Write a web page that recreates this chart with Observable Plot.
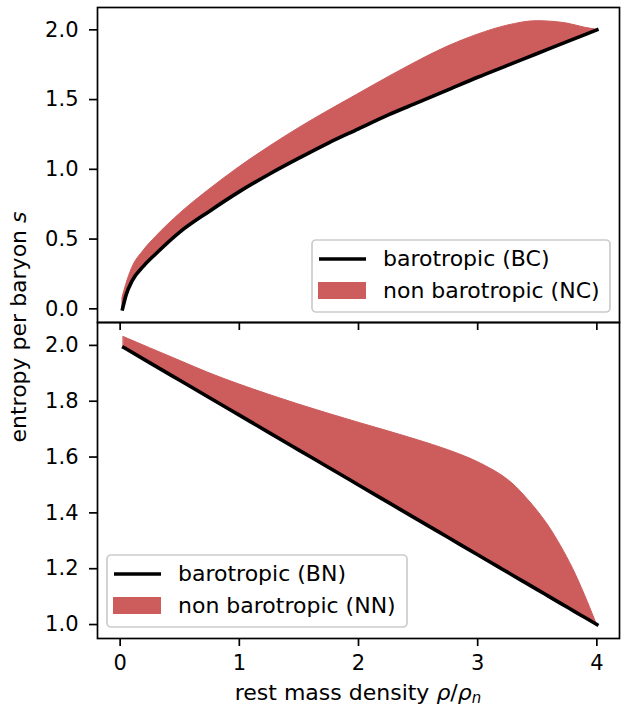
<!DOCTYPE html>
<html>
<head>
<meta charset="utf-8">
<script src="https://cdn.jsdelivr.net/npm/d3@7"></script>
<script src="https://cdn.jsdelivr.net/npm/@observablehq/plot@0.6"></script>
<style>
  html, body { margin: 0; padding: 0; background: white; }
  #fig { position: relative; width: 621px; height: 706px; font-family: "DejaVu Sans", sans-serif; }
  #fig > svg { position: absolute; left: 0; }
</style>
</head>
<body>
<div id="fig"></div>
<script>
// ---- data ----
const xTop = [0.02, 0.05, 0.1, 0.2, 0.3, 0.5, 0.75, 1, 1.25, 1.5, 1.75, 2, 2.25, 2.5, 2.75, 3, 3.25, 3.5, 3.75, 3.9, 4];
const sBC  = [0.0, 0.10, 0.20, 0.31, 0.395, 0.55, 0.70, 0.84, 0.965, 1.08, 1.19, 1.29, 1.39, 1.48, 1.57, 1.66, 1.745, 1.83, 1.915, 1.966, 2.0];
const sNC  = [0.08, 0.17, 0.29, 0.42, 0.515, 0.68, 0.855, 1.015, 1.16, 1.295, 1.42, 1.54, 1.66, 1.775, 1.88, 1.965, 2.03, 2.062, 2.045, 2.015, 2.0];

const xBot = [0.03, 0.25, 0.5, 0.75, 1, 1.25, 1.5, 1.75, 2, 2.25, 2.5, 2.75, 3, 3.1, 3.2, 3.3, 3.4, 3.5, 3.6, 3.7, 3.8, 3.9, 4];
const sBN  = [1.9925, 1.9375, 1.875, 1.8125, 1.75, 1.6875, 1.625, 1.5625, 1.5, 1.4375, 1.375, 1.3125, 1.25, 1.225, 1.2, 1.175, 1.15, 1.125, 1.1, 1.075, 1.05, 1.025, 1.0];
const sNN  = [2.03, 1.99, 1.945, 1.90, 1.86, 1.823, 1.788, 1.755, 1.723, 1.692, 1.66, 1.625, 1.582, 1.56, 1.535, 1.502, 1.458, 1.408, 1.35, 1.28, 1.20, 1.105, 1.0];

const xTicks = [0, 1, 2, 3, 4];
const yTopTicks = [0, 0.5, 1.0, 1.5, 2.0];
const yBotTicks = [1.0, 1.2, 1.4, 1.6, 1.8, 2.0];

const legendTop = ["barotropic (BC)", "non barotropic (NC)"];
const legendBot = ["barotropic (BN)", "non barotropic (NN)"];

// ---- tables ----
const topData = xTop.map((x, i) => ({x, base: sBC[i], upper: sNC[i]}));
const botData = xBot.map((x, i) => ({x, base: sBN[i], upper: sNN[i]}));

const RED = "#CD5C5C";
const FONT = {fontFamily: "DejaVu Sans, sans-serif", fontSize: "21px", background: "transparent", overflow: "visible", color: "black"};

const topPlot = Plot.plot({
  width: 621, height: 330,
  marginLeft: 97, marginRight: 2, marginTop: 7, marginBottom: 8,
  x: {domain: [-0.19, 4.19]},
  y: {domain: [-0.098, 2.16]},
  style: FONT,
  marks: [
    Plot.areaY(topData, {x: "x", y1: "base", y2: "upper", fill: RED, stroke: RED, strokeWidth: 1, curve: "monotone-x"}),
    Plot.line(topData, {x: "x", y: "base", stroke: "black", strokeWidth: 3.6, strokeLinecap: "square", curve: "monotone-x"}),
    Plot.axisY({ticks: yTopTicks, tickSize: 8, tickPadding: 11, strokeWidth: 1.7, tickFormat: d => d.toFixed(1), label: null}),
    Plot.axisX({ticks: xTicks, tickSize: 8, strokeWidth: 1.7, tickFormat: () => "", label: null}),
    Plot.frame({stroke: "black", strokeWidth: 1.7})
  ]
});
topPlot.style.top = "0px";

const botPlot = Plot.plot({
  width: 621, height: 384,
  marginLeft: 97, marginRight: 2, marginTop: 0, marginBottom: 68,
  x: {domain: [-0.19, 4.19]},
  y: {domain: [0.95, 2.082]},
  style: FONT,
  marks: [
    Plot.areaY(botData, {x: "x", y1: "base", y2: "upper", fill: RED, stroke: RED, strokeWidth: 1, curve: "monotone-x"}),
    Plot.line(botData, {x: "x", y: "base", stroke: "black", strokeWidth: 3.6, strokeLinecap: "square", curve: "monotone-x"}),
    Plot.axisY({ticks: yBotTicks, tickSize: 8, tickPadding: 11, strokeWidth: 1.7, tickFormat: d => d.toFixed(1), label: null}),
    Plot.axisX({ticks: xTicks, tickSize: 8, tickPadding: 9, strokeWidth: 1.7, tickFormat: d => String(d), label: null}),
    Plot.frame({stroke: "black", strokeWidth: 1.7})
  ]
});
botPlot.style.top = "322px";

const fig = document.getElementById("fig");
fig.appendChild(topPlot);
fig.appendChild(botPlot);

// ---- overlay: axis titles and legends ----
const ov = d3.select(fig).append("svg")
  .attr("width", 621).attr("height", 706)
  .style("position", "absolute").style("left", "0px").style("top", "0px")
  .style("overflow", "visible")
  .attr("font-family", "DejaVu Sans, sans-serif").attr("font-size", 22);

// y title
const yt = ov.append("text")
  .attr("transform", "translate(26,327) rotate(-90)")
  .attr("text-anchor", "middle");
yt.append("tspan").text("entropy per baryon ");
yt.append("tspan").attr("font-style", "italic").text("s");

// x title
const xt = ov.append("text")
  .attr("x", 358).attr("y", 700).attr("text-anchor", "middle");
xt.append("tspan").text("rest mass density ");
xt.append("tspan").attr("font-style", "italic").text("ρ");
xt.append("tspan").text("/");
xt.append("tspan").attr("font-style", "italic").text("ρ");
xt.append("tspan").attr("font-style", "italic").attr("font-size", 15).attr("dy", 3).text("n");

function legend(g, x, y, w, h, labels) {
  g.append("rect").attr("x", x).attr("y", y).attr("width", w).attr("height", h)
    .attr("rx", 4).attr("fill", "white").attr("fill-opacity", 0.8)
    .attr("stroke", "#cccccc").attr("stroke-width", 1.7);
  g.append("line").attr("x1", x + 7).attr("x2", x + 54).attr("y1", y + 19).attr("y2", y + 19)
    .attr("stroke", "black").attr("stroke-width", 3.6);
  g.append("rect").attr("x", x + 6).attr("y", y + 42).attr("width", 48).attr("height", 17)
    .attr("fill", RED);
  g.append("text").attr("x", x + 71).attr("y", y + 26).text(labels[0]);
  g.append("text").attr("x", x + 71).attr("y", y + 58).text(labels[1]);
}
legend(ov.append("g"), 312, 240, 298, 72, legendTop);
legend(ov.append("g"), 107, 555, 300, 72, legendBot);
</script>
</body>
</html>
